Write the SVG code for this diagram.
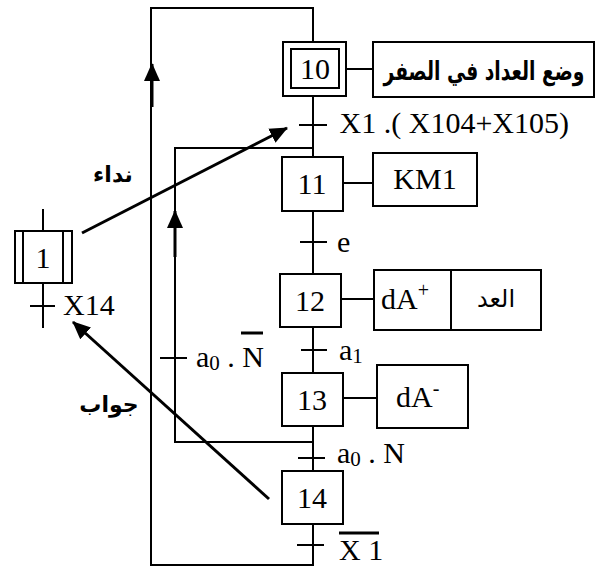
<svg xmlns="http://www.w3.org/2000/svg" width="606" height="569" viewBox="0 0 606 569">
<style>
.box{fill:#fff;stroke:#000;stroke-width:2}
.ln{fill:none;stroke:#000;stroke-width:2}
.thk{fill:none;stroke:#000;stroke-width:3}
.t{font-family:'Liberation Serif','DejaVu Serif',serif;font-size:30px;fill:#000}
.tc{text-anchor:middle}
.ar{font-family:'DejaVu Sans',sans-serif;font-weight:bold;font-size:22px;fill:#000}
.arn{font-family:'DejaVu Sans',sans-serif;font-size:24px;fill:#000}
</style>
<defs>
<marker id="ah" viewBox="0 0 18 16" refX="17" refY="8" markerWidth="18" markerHeight="16" markerUnits="userSpaceOnUse" orient="auto">
<path d="M0,0 L18,8 L0,16 z" fill="#000"/>
</marker>
</defs>
<rect width="606" height="569" fill="#fff"/>
<g id="connectors">
<polyline class="ln" points="313,42 313,8 151,8 151,565 313,565 313,524"/>
<line class="ln" x1="313" y1="96" x2="313" y2="157"/>
<line class="ln" x1="313" y1="211" x2="313" y2="274"/>
<line class="ln" x1="313" y1="327" x2="313" y2="373"/>
<line class="ln" x1="313" y1="426" x2="313" y2="471"/>
<polyline class="ln" points="312,442 175,442 175,148 313,148"/>
<line class="ln" x1="346" y1="69" x2="373" y2="69"/>
<line class="ln" x1="343" y1="183" x2="373" y2="183"/>
<line class="ln" x1="341" y1="299" x2="374" y2="299"/>
<line class="ln" x1="343" y1="398" x2="377" y2="398"/>
<line class="ln" x1="43" y1="209" x2="43" y2="231"/>
<line class="ln" x1="43" y1="283" x2="43" y2="328"/>
<line class="thk" x1="152" y1="107" x2="152" y2="64" marker-end="url(#ah)"/>
<line class="thk" x1="175" y1="257" x2="175" y2="211" marker-end="url(#ah)"/>
<line class="thk" x1="82" y1="233" x2="287" y2="128" marker-end="url(#ah)"/>
<line class="thk" x1="269" y1="499" x2="73" y2="322" marker-end="url(#ah)"/>
</g>
<g id="t0">
<line class="ln" x1="299" y1="125" x2="327" y2="125"/>
<text class="t" x="569" y="133" text-anchor="end">X1 .( X104+X105)</text>
</g>
<g id="t1">
<line class="ln" x1="300" y1="242" x2="327" y2="242"/>
<text class="t" x="337" y="252">e</text>
</g>
<g id="t2">
<line class="ln" x1="301" y1="350" x2="327" y2="350"/>
<text class="t" x="339" y="360">a<tspan style="font-size:21px" dy="3">1</tspan></text>
</g>
<g id="t3">
<line class="ln" x1="160" y1="358" x2="187" y2="358"/>
<text class="t" x="196" y="367">a<tspan style="font-size:21px" dy="3">0</tspan><tspan dy="-3"> . N</tspan></text>
<line class="thk" x1="241" y1="333" x2="263" y2="333"/>
</g>
<g id="t4">
<line class="ln" x1="298" y1="458" x2="325" y2="458"/>
<text class="t" x="337" y="463">a<tspan style="font-size:21px" dy="3">0</tspan><tspan dy="-3"> . N</tspan></text>
</g>
<g id="t5">
<line class="ln" x1="297" y1="545" x2="324" y2="545"/>
<text class="t" x="339" y="560">X 1</text>
<line class="thk" x1="339" y1="533" x2="379" y2="533"/>
</g>
<g id="t6">
<line class="ln" x1="30" y1="306" x2="55" y2="306"/>
<text class="t" x="63" y="315">X14</text>
</g>
<g id="step10">
<rect class="box" x="283" y="42" width="63" height="54"/>
<rect class="box" x="291" y="49" width="48" height="39"/>
<text class="t tc" x="315" y="79">10</text>
</g>
<g id="action10">
<rect class="box" x="373" y="42" width="221" height="55"/>
<text class="ar tc" transform="translate(484,80) scale(0.72,1)" x="0" y="0" style="font-size:26px">وضع العداد في الصفر</text>
</g>
<g id="step11">
<rect class="box" x="282" y="157" width="61" height="54"/>
<text class="t tc" x="312" y="194">11</text>
</g>
<g id="action11">
<rect class="box" x="373" y="153" width="104" height="53"/>
<text class="t tc" x="425" y="189">KM1</text>
</g>
<g id="step12">
<rect class="box" x="280" y="274" width="61" height="53"/>
<text class="t tc" x="310" y="311">12</text>
</g>
<g id="action12">
<rect class="box" x="374" y="270" width="167" height="60"/>
<line class="ln" x1="451" y1="270" x2="451" y2="330"/>
<text class="t" x="381" y="309">dA<tspan style="font-size:20px" dy="-12">+</tspan></text>
<text class="arn tc" x="496" y="307">العد</text>
</g>
<g id="step13">
<rect class="box" x="282" y="373" width="61" height="53"/>
<text class="t tc" x="312" y="410">13</text>
</g>
<g id="action13">
<rect class="box" x="377" y="365" width="91" height="63"/>
<text class="t" x="396" y="407">dA<tspan style="font-size:20px" dy="-12">-</tspan></text>
</g>
<g id="step14">
<rect class="box" x="282" y="471" width="61" height="53"/>
<text class="t tc" x="312" y="508">14</text>
</g>
<g id="step1">
<rect class="box" x="15" y="231" width="57" height="52"/>
<line class="ln" x1="23" y1="231" x2="23" y2="283"/>
<line class="ln" x1="63" y1="231" x2="63" y2="283"/>
<text class="t tc" x="43" y="268">1</text>
</g>
<g id="labels">
<text class="ar tc" x="113" y="182">نداء</text>
<text class="ar tc" x="109" y="412">جواب</text>
</g>
</svg>
